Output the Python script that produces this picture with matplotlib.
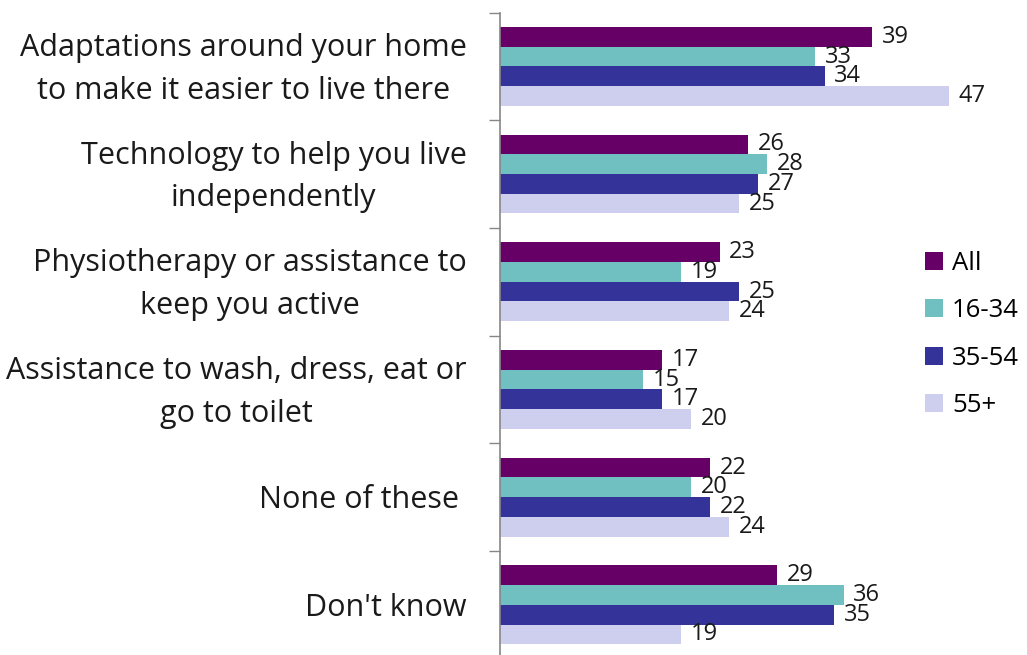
import numpy as np
import matplotlib
matplotlib.use("Agg")
import matplotlib.pyplot as plt

plt.rcParams["font.family"] = ["Open Sans", "DejaVu Sans"]

# Survey results: share of respondents (%) by age group
categories = [
    "Adaptations around your home\nto make it easier to live there",
    "Technology to help you live\nindependently",
    "Physiotherapy or assistance to\nkeep you active",
    "Assistance to wash, dress, eat or\ngo to toilet",
    "None of these ",
    "Don't know",
]
series_names = ["All", "16-34", "35-54", "55+"]
all_ages = [39, 26, 23, 17, 22, 29]
age_16_34 = [33, 28, 19, 15, 20, 36]
age_35_54 = [34, 27, 25, 17, 22, 35]
age_55_plus = [47, 25, 24, 20, 24, 19]

colors = ["#660066", "#70C0C2", "#333399", "#CECEEE"]
values = [all_ages, age_16_34, age_35_54, age_55_plus]

fig = plt.figure(figsize=(10.27, 6.55), dpi=100)
ax = fig.add_axes([0.4869, -0.0056, 0.5131, 0.9865])

y = np.arange(len(categories))
bar_h = 0.183
for i, (name, vals, col) in enumerate(zip(series_names, values, colors)):
    pos = y + (i - 1.5) * bar_h
    bars = ax.barh(pos, vals, height=bar_h, color=col, label=name)
    ax.bar_label(bars, labels=[str(v) for v in vals], padding=7,
                 fontsize=17, color="#1a1a1a")

ax.set_ylim(len(categories) - 0.5, -0.5)
ax.set_xlim(0, 55.2)

# category labels sit a touch below the group centre
ax.set_yticks(y + 0.028)
ax.set_yticklabels(categories, fontsize=22, multialignment="center",
                   linespacing=1.55, va="center", color="#1a1a1a")
ax.tick_params(axis="y", which="major", length=0, pad=24)
ax.set_yticks(np.arange(-0.5, len(categories) + 0.5, 1), minor=True)
ax.tick_params(axis="y", which="minor", length=8, color="#868686", width=1)
ax.set_xticks([])

for side in ["top", "right", "bottom"]:
    ax.spines[side].set_visible(False)
ax.spines["left"].set_color("#868686")
ax.spines["left"].set_linewidth(1.2)

leg = ax.legend(loc="upper left", bbox_to_anchor=(0.9007, 0.6168),
                bbox_transform=fig.transFigure, frameon=False,
                fontsize=18.5, handlelength=0.7, handleheight=0.7,
                handletextpad=0.35, labelspacing=0.87,
                borderpad=0, borderaxespad=0)

fig.savefig("out.png", dpi=100)
